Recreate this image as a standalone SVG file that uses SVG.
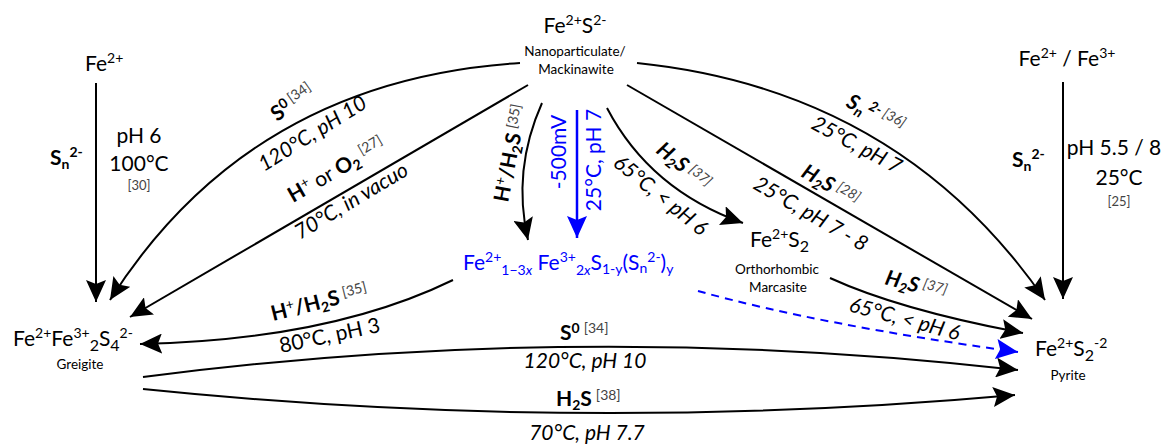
<svg xmlns="http://www.w3.org/2000/svg" width="1168" height="444" viewBox="0 0 1168 444">
<style>
text{font-family:Lato,"Liberation Sans",sans-serif;fill:#000}
.big{font-size:21px}
.sm{font-size:13.5px}
.lab{font-size:21px}
.ref{font-size:14px;fill:#444;font-weight:normal}
.b{font-weight:bold}
.i{font-style:italic}
.blue{fill:#0000ff}
.s{font-size:14px}
.sb{font-size:16px}
.e{fill:none;stroke:#000;stroke-width:2}
.eb{fill:none;stroke:#0000ff;stroke-width:2.5}
.ed{fill:none;stroke:#0000ff;stroke-width:2;stroke-dasharray:8 6}
</style>
<defs>
<marker id="ah" markerUnits="userSpaceOnUse" markerWidth="24" markerHeight="20" refX="22" refY="10" orient="auto">
<path d="M0,0 L22,10 L0,20 L4,10 z" fill="#000"/>
</marker>
<marker id="ahb" markerUnits="userSpaceOnUse" markerWidth="24" markerHeight="20" refX="22" refY="10" orient="auto">
<path d="M0,0 L22,10 L0,20 L4,10 z" fill="#0000ff"/>
</marker>
</defs>

<g id="connectors">
<path class="e" d="M96,83 L96,302" marker-end="url(#ah)"/>
<path class="e" d="M520,63 Q250,80 110,300" marker-end="url(#ah)"/>
<path class="e" d="M528,85 L130,317" marker-end="url(#ah)"/>
<path class="e" d="M542,103 Q512,170 528,240" marker-end="url(#ah)"/>
<path class="eb" d="M577,110 L577,238" marker-end="url(#ahb)"/>
<path class="e" d="M607,108 Q650,190 743,223" marker-end="url(#ah)"/>
<path class="e" d="M627,85 L1032,319" marker-end="url(#ah)"/>
<path class="e" d="M637,63 Q900,90 1045,300" marker-end="url(#ah)"/>
<path class="e" d="M1063,82 L1063,299" marker-end="url(#ah)"/>
<path class="e" d="M830,278 Q900,310 1023,333" marker-end="url(#ah)"/>
<path class="ed" d="M698,291 Q820,325 1018,352" marker-end="url(#ahb)"/>
<path class="e" d="M453,280 Q330,340 140,344" marker-end="url(#ah)"/>
<path class="e" d="M143,377 Q580,320 1018,370" marker-end="url(#ah)"/>
<path class="e" d="M143,389 Q580,434 1015,395" marker-end="url(#ah)"/>
</g>

<g id="labels">
<text class="lab" x="50" y="165"><tspan class="b">S</tspan><tspan class="b s" dy="4">n</tspan><tspan class="b s" dy="-12">2-</tspan></text>
<text class="lab" x="139" y="143" text-anchor="middle">pH 6</text>
<text class="lab" x="139" y="171" text-anchor="middle">100°C</text>
<text class="ref" x="139" y="190" text-anchor="middle" style="font-size:13px">[30]</text>

<text class="lab" x="1012" y="167"><tspan class="b">S</tspan><tspan class="b s" dy="4">n</tspan><tspan class="b s" dy="-12">2-</tspan></text>
<text class="lab" x="1114" y="155" text-anchor="middle">pH 5.5 / 8</text>
<text class="lab" x="1119" y="185" text-anchor="middle">25°C</text>
<text class="ref" x="1119" y="206" text-anchor="middle" style="font-size:13px">[25]</text>

<text class="lab" transform="rotate(-35 277 122)" x="277" y="122"><tspan class="b">S</tspan><tspan class="b s" dy="-7">0</tspan><tspan class="ref" dx="3">[34]</tspan></text>
<text class="lab i" transform="rotate(-32 264 172)" x="264" y="172">120°C, pH 10</text>

<text class="lab" transform="rotate(-30 293 203)" x="293" y="203"><tspan class="b">H</tspan><tspan class="s" dy="-7">+</tspan><tspan dy="7"> or </tspan><tspan class="b">O</tspan><tspan class="b s" dy="4">2</tspan><tspan class="ref" dx="4" dy="-11">[27]</tspan></text>
<text class="lab i" transform="rotate(-31 300 240)" x="300" y="240">70°C, in vacuo</text>

<text class="lab" transform="rotate(-79 508 203)" x="508" y="203"><tspan class="b">H</tspan><tspan class="s" dy="-7">+</tspan><tspan class="b" dy="7">/H</tspan><tspan class="b s" dy="4">2</tspan><tspan class="b" dy="-4">S</tspan><tspan class="ref" dx="4" dy="-6">[35]</tspan></text>

<text class="lab blue" transform="rotate(-90 566 152)" x="566" y="152" text-anchor="middle">-500mV</text>
<text class="lab blue" transform="rotate(-90 601 160)" x="601" y="160" text-anchor="middle">25°C, pH 7</text>

<text class="lab i" transform="rotate(39 655 152)" x="655" y="152"><tspan class="b">H</tspan><tspan class="b s" dy="4">2</tspan><tspan class="b" dy="-4">S</tspan><tspan class="ref" dx="4" dy="-6">[37]</tspan></text>
<text class="lab i" transform="rotate(39 612 165)" x="612" y="165">65°C, &lt; pH 6</text>

<text class="lab i" transform="rotate(28 845 106)" x="845" y="106"><tspan class="b">S</tspan><tspan class="b s" dy="4">n</tspan><tspan class="b s" dx="3" dy="-12">2-</tspan><tspan class="ref" dx="3">[36]</tspan></text>
<text class="lab i" transform="rotate(28 810 128)" x="810" y="128">25°C, pH 7</text>

<text class="lab i" transform="rotate(30 800 176)" x="800" y="176"><tspan class="b">H</tspan><tspan class="b s" dy="4">2</tspan><tspan class="b" dy="-4">S</tspan><tspan class="ref" dx="4" dy="-6">[28]</tspan></text>
<text class="lab i" transform="rotate(30 752 188)" x="752" y="188">25°C, pH 7 - 8</text>

<text class="lab i" transform="rotate(15 884 284)" x="884" y="284"><tspan class="b">H</tspan><tspan class="b s" dy="4">2</tspan><tspan class="b" dy="-4">S</tspan><tspan class="ref" dx="4" dy="-6">[37]</tspan></text>
<text class="lab i" transform="rotate(15 848 311)" x="848" y="311">65°C, &lt; pH 6</text>

<text class="lab" transform="rotate(-14 273 321)" x="273" y="321"><tspan class="b">H</tspan><tspan class="s" dy="-7">+</tspan><tspan class="b" dy="7">/H</tspan><tspan class="b s" dy="4">2</tspan><tspan class="b" dy="-4">S</tspan><tspan class="ref" dx="4" dy="-6">[35]</tspan></text>
<text class="lab" transform="rotate(-12 281 353)" x="281" y="353">80°C, pH 3</text>

<text class="lab" x="560" y="340"><tspan class="b">S</tspan><tspan class="b s" dy="-7">0</tspan><tspan class="ref" dx="4">[34]</tspan></text>
<text class="lab i" x="585" y="368" text-anchor="middle">120°C, pH 10</text>
<text class="lab" x="556" y="406"><tspan class="b">H</tspan><tspan class="b s" dy="4">2</tspan><tspan class="b" dy="-4">S</tspan><tspan class="ref" dx="4" dy="-6">[38]</tspan></text>
<text class="lab i" x="587" y="440" text-anchor="middle">70°C, pH 7.7</text>
</g>

<g id="node-fes">
<text class="big" x="575" y="33" text-anchor="middle">Fe<tspan class="s" dy="-8">2+</tspan><tspan dy="8">S</tspan><tspan class="s" dy="-8">2-</tspan></text>
<text class="sm" x="575" y="56" text-anchor="middle">Nanoparticulate/</text>
<text class="sm" x="576" y="74" text-anchor="middle">Mackinawite</text>
</g>

<g id="node-fe2">
<text class="big" x="85" y="71">Fe<tspan class="s" dy="-8">2+</tspan></text>
</g>

<g id="node-fe23">
<text class="big" x="1067" y="66" text-anchor="middle">Fe<tspan class="s" dy="-8">2+</tspan><tspan dy="8"> / Fe</tspan><tspan class="s" dy="-8">3+</tspan></text>
</g>

<g id="node-greigite">
<text class="big" x="13" y="346">Fe<tspan class="s" dy="-8">2+</tspan><tspan dy="8">Fe</tspan><tspan class="s" dy="-8">3+</tspan><tspan class="sb" dy="13">2</tspan><tspan dy="-5">S</tspan><tspan class="sb" dy="5">4</tspan><tspan class="s" dy="-13">2-</tspan></text>
<text class="sm" x="80" y="369" text-anchor="middle">Greigite</text>
</g>

<g id="node-mixed">
<text class="big blue" x="463" y="270">Fe<tspan class="s" dy="-8">2+</tspan><tspan class="s" dy="13">1−3<tspan class="i">x</tspan></tspan><tspan dy="-5"> Fe</tspan><tspan class="s" dy="-8">3+</tspan><tspan class="s" dy="13">2<tspan class="i">x</tspan></tspan><tspan dy="-5">S</tspan><tspan class="s" dy="4">1-y</tspan><tspan dy="-4">(S</tspan><tspan class="s" dy="3">n</tspan><tspan class="s" dy="-11">2-</tspan><tspan dy="8">)</tspan><tspan class="s" dy="4">y</tspan></text>
</g>

<g id="node-marcasite">
<text class="big" x="750" y="247">Fe<tspan class="s" dy="-8">2+</tspan><tspan dy="8">S</tspan><tspan class="sb" dy="5">2</tspan></text>
<text class="sm" x="777" y="274" text-anchor="middle">Orthorhombic</text>
<text class="sm" x="778" y="292" text-anchor="middle">Marcasite</text>
</g>

<g id="node-pyrite">
<text class="big" x="1035" y="356">Fe<tspan class="s" dy="-8">2+</tspan><tspan dy="8">S</tspan><tspan class="sb" dy="5">2</tspan><tspan class="s" dy="-13">-2</tspan></text>
<text class="sm" x="1068" y="380" text-anchor="middle">Pyrite</text>
</g>
</svg>
